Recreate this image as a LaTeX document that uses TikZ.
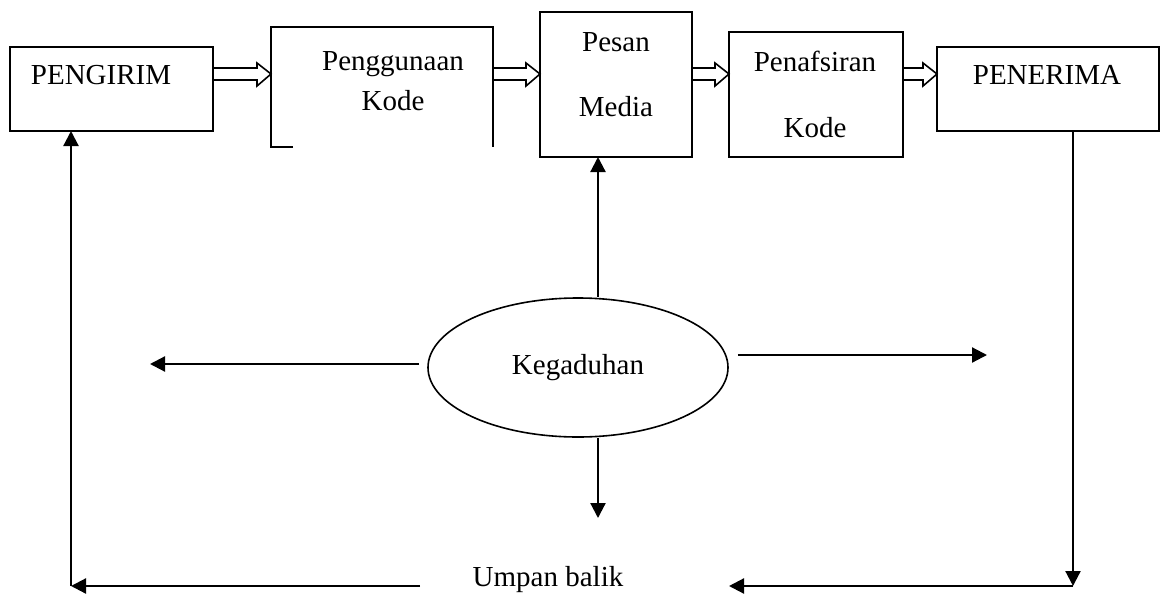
\documentclass[tikz,border=0pt]{standalone}
\usepackage{fontspec}
\setmainfont{Liberation Serif}
\usetikzlibrary{arrows.meta,shapes.geometric,calc}

\newcommand{\pipa}[2]{%
        \draw[pipa] let \p1=(#1.east), \p2=(#2.west) in
                (\x1,-68pt) -- (\x2-14pt,-68pt) -- (\x2-14pt,-63pt) -- (\x2,-74pt)
                -- (\x2-14pt,-86pt) -- (\x2-14pt,-80pt) -- (\x1,-80pt) -- cycle;}

\begin{document}
\begin{tikzpicture}[x=1pt, y=-1pt,
        font=\fontsize{29}{35}\selectfont,
        kotak/.style={draw, line width=1.8pt, outer sep=0pt, inner sep=0pt},
        pipa/.style={draw, fill=white, line width=1.6pt, line join=miter},
        panah/.style={line width=2.2pt, -{Triangle[length=15pt,width=15pt]}}]
        \useasboundingbox (0,0) rectangle (1166,594);

        \node[kotak, minimum width=203pt, minimum height=84pt] (pengirim) at (111.5,89) {};
        \node (tpengirim) at (101,75) {PENGIRIM};

        \node[outer sep=0pt, minimum width=222pt, minimum height=120pt] (guna) at (382,87) {};
        \draw[line width=1.8pt] ([xshift=22pt]guna.south west) -- (guna.south west) -- (guna.north west)
                -- (guna.north east) -- (guna.south east);
        \node[align=center] (tguna) at (393,81.5) {Penggunaan\\[5pt]Kode};

        \node[kotak, minimum width=152pt, minimum height=145pt] (pesan) at (616,84.5) {};
        \node[align=center] (tpesan) at (616,74.5) {Pesan\\[30pt]Media};

        \node[kotak, minimum width=174pt, minimum height=125pt] (tafsir) at (816,94.5) {};
        \node[align=center] (ttafsir) at (815,94.5) {Penafsiran\\[31pt]Kode};

        \node[kotak, minimum width=222pt, minimum height=84pt] (penerima) at (1048,89) {};
        \node (tpenerima) at (1047,75) {PENERIMA};

        \pipa{pengirim}{guna}
        \pipa{guna}{pesan}
        \pipa{pesan}{tafsir}
        \pipa{tafsir}{penerima}

        \node[ellipse, draw, line width=1.6pt, inner sep=0pt, minimum width=300pt, minimum height=139pt] (kegaduhan) at (578,367.5) {Kegaduhan};

        \coordinate (bawah) at (598,518);
        \coordinate (kiri) at (150,364);
        \coordinate (kanan) at (987,355);

        \draw[panah] (bawah |- kegaduhan.north) -- (bawah |- pesan.south);
        \draw[panah] (bawah |- kegaduhan.south) -- (bawah);
        \draw[panah] ([xshift=-8pt,yshift=3.5pt]kegaduhan.west) -- (kiri);
        \draw[panah] ([xshift=9pt,yshift=12.5pt]kegaduhan.east) -- (kanan);

        \node (umpan) at (548,580) {Umpan balik};

        \coordinate (sudutkiri) at (71,586);
        \coordinate (sudutkanan) at (1073,586);
        \coordinate (umpankiri) at (420,586);
        \coordinate (umpankanan) at (729,586);

        \draw[panah] (umpankiri) -- (sudutkiri);
        \draw[panah] (sudutkiri) -- (sudutkiri |- pengirim.south);
        \draw[panah] (sudutkanan |- penerima.south) -- (sudutkanan);
        \draw[panah] (sudutkanan) -- (umpankanan);
\end{tikzpicture}
\end{document}
